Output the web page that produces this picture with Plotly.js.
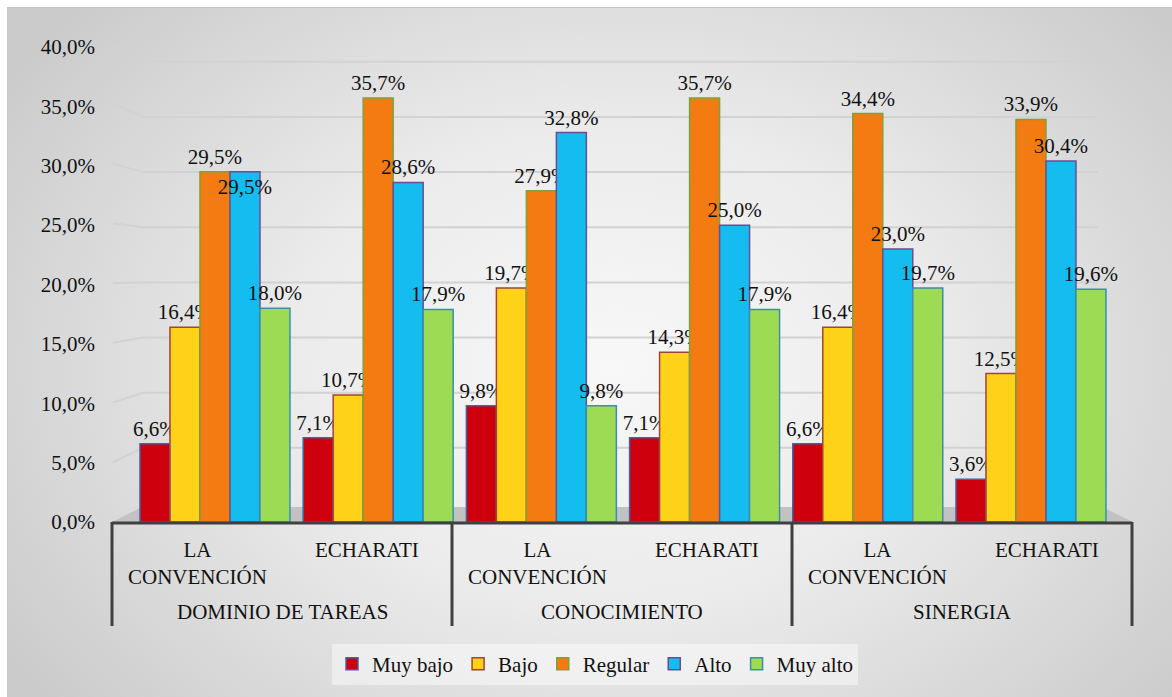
<!DOCTYPE html>
<html>
<head>
<meta charset="utf-8">
<script src="https://cdn.plot.ly/plotly-3.0.1.min.js"></script>
<style>
  html, body { margin: 0; padding: 0; background: #ffffff; }
  #panel {
    position: absolute; left: 7px; top: 7px; width: 1165px; height: 690px;
    border-top: 1px solid #c4c4c4; border-left: 1px solid #c8c8c8;
    background: radial-gradient(ellipse 62% 78% at 52% 52%, #f8f8f8 0%, #ebebeb 45%, #cbcbcb 100%);
  }
  #chart { position: absolute; left: 0; top: 0; width: 1172px; height: 697px; }
</style>
</head>
<body>
<div id="panel"></div>
<div id="chart"></div>
<script>
// ---- data ----
const groups = ['DOMINIO DE TAREAS', 'CONOCIMIENTO', 'SINERGIA'];
const places = ['LA CONVENCIÓN', 'ECHARATI'];
const seriesNames = ['Muy bajo', 'Bajo', 'Regular', 'Alto', 'Muy alto'];
const muyBajo = [6.6, 7.1, 9.8, 7.1, 6.6, 3.6];
const bajo    = [16.4, 10.7, 19.7, 14.3, 16.4, 12.5];
const regular = [29.5, 35.7, 27.9, 35.7, 34.4, 33.9];
const alto    = [29.5, 28.6, 32.8, 25.0, 23.0, 30.4];
const muyAlto = [18.0, 17.9, 9.8, 17.9, 19.7, 19.6];
const yTicks  = [0, 5, 10, 15, 20, 25, 30, 35, 40];

// ---- styles ----
const fillColors = ['#cf000e', '#ffd21a', '#f47a12', '#15bcef', '#9ddb55'];
const lineColors = ['#3f63a6', '#a2423c', '#7ea13e', '#6b4d93', '#3a8fb0'];
// label placement per series (Alto's first label sits inside the bar top, as in the source)
const textPos = [
  'outside', 'outside', 'outside',
  ['inside', 'outside', 'outside', 'outside', 'outside', 'outside'],
  'outside'
];

const values = [muyBajo, bajo, regular, alto, muyAlto];
const cats = [];
groups.forEach(g => places.forEach(p => cats.push(g + ' | ' + p)));

const FONT = "'Liberation Serif', 'Times New Roman', 'DejaVu Serif', serif";
const FS = 21;
const fmt = v => v.toFixed(1).replace('.', ',') + '%';

const traces = values.map((vals, i) => ({
  type: 'bar',
  name: seriesNames[i],
  x: cats,
  y: vals,
  marker: { color: fillColors[i], line: { color: lineColors[i], width: 1.5 } },
  text: vals.map(fmt),
  texttemplate: '%{text}',
  textposition: textPos[i],
  textangle: 0,
  insidetextanchor: 'end',
  constraintext: 'none',
  cliponaxis: false,
  textfont: { family: FONT, size: FS, color: '#111' },
  insidetextfont: { family: FONT, size: FS, color: '#111' },
  outsidetextfont: { family: FONT, size: FS, color: '#111' },
  hoverinfo: 'skip'
}));

// ---- geometry helpers (pixel -> paper) ----
const L = 112, R = 1132, T = 25, B = 522;
const W = R - L, H = B - T;
const px = x => (x - L) / W;
const py = y => (B - y) / H;

const shapes = [];
// back-wall gridlines with slanted left wall segment
yTicks.filter(v => v > 0).forEach(v => {
  const yFront = 522 - 11.95 * v;
  const yBack = 503 - 11.03 * v;
  shapes.push({
    type: 'path', xref: 'paper', yref: 'paper', layer: 'below',
    path: `M ${px(113)},${py(yFront)} L ${px(143)},${py(yBack)} L ${px(1098)},${py(yBack)}`,
    line: { color: '#d2d2d2', width: 2 }
  });
});
// floor
shapes.push({
  type: 'path', xref: 'paper', yref: 'paper', layer: 'below',
  path: `M ${px(112)},${py(522)} L ${px(142)},${py(507)} L ${px(1102)},${py(507)} L ${px(1133)},${py(522)} Z`,
  fillcolor: '#c2c2c2', line: { width: 0 }
});
// category axis box: baseline and dividers
shapes.push({
  type: 'line', xref: 'paper', yref: 'paper', layer: 'above',
  x0: 0, x1: 1, y0: py(523), y1: py(523),
  line: { color: '#404040', width: 3 }
});
for (let g = 0; g <= groups.length; g++) {
  shapes.push({
    type: 'line', xref: 'paper', yref: 'paper', layer: 'above',
    x0: g / groups.length, x1: g / groups.length, y0: py(522), y1: py(626),
    line: { color: '#404040', width: 3 }
  });
}

const annotations = [];
const nCats = groups.length * places.length;
groups.forEach((g, gi) => {
  places.forEach((p, pi) => {
    const i = gi * places.length + pi;
    annotations.push({
      xref: 'paper', yref: 'paper', x: (i + 0.5) / nCats, y: py(536),
      xanchor: 'center', yanchor: 'top', showarrow: false,
      text: p.replace(' ', '<br>'),
      font: { family: FONT, size: FS, color: '#111' }
    });
  });
  annotations.push({
    xref: 'paper', yref: 'paper', x: (gi + 0.5) / groups.length, y: py(612),
    xanchor: 'center', yanchor: 'middle', showarrow: false,
    text: g,
    font: { family: FONT, size: FS, color: '#111' }
  });
});

const layout = {
  width: 1172, height: 697,
  margin: { l: L, r: 1172 - R, t: T, b: 697 - B },
  paper_bgcolor: 'rgba(0,0,0,0)',
  plot_bgcolor: 'rgba(0,0,0,0)',
  separators: ',.',
  barmode: 'group',
  bargap: 0.081,
  bargroupgap: 0,
  font: { family: FONT, size: FS, color: '#111' },
  xaxis: {
    type: 'category',
    range: [-0.631, 5.619],
    showticklabels: false, showgrid: false, zeroline: false, showline: false,
    ticks: '', fixedrange: true
  },
  yaxis: {
    range: [0, H / 11.875],
    tickmode: 'array',
    tickvals: yTicks,
    ticktext: yTicks.map(fmt),
    showgrid: false, zeroline: false, showline: false, ticks: '',
    ticklabelstandoff: 16,
    tickfont: { family: FONT, size: FS, color: '#111' },
    fixedrange: true
  },
  showlegend: true,
  legend: {
    orientation: 'h',
    xref: 'container', yref: 'container',
    x: 595 / 1172, xanchor: 'center',
    y: 1 - 664 / 697, yanchor: 'middle',
    bgcolor: 'rgba(255,255,255,0.45)',
    font: { family: FONT, size: FS, color: '#111' },
    itemwidth: 30,
    traceorder: 'normal'
  },
  shapes: shapes,
  annotations: annotations
};

Plotly.newPlot('chart', traces, layout, { displayModeBar: false, staticPlot: true });
</script>
</body>
</html>
